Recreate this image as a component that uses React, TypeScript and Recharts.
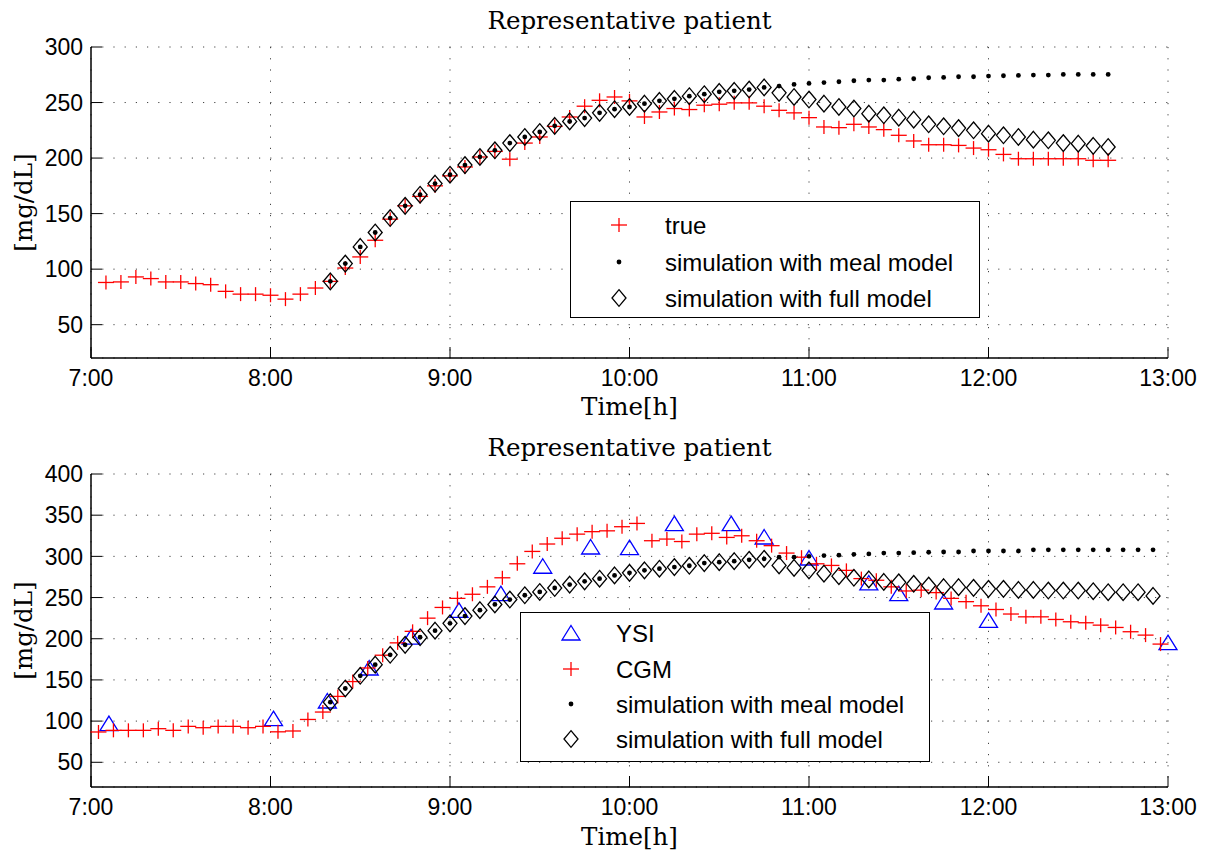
import React from 'react';
import { ScatterChart, Scatter, XAxis, YAxis, CartesianGrid, Legend } from 'recharts';

// x values are minutes after 7:00
const hourTicks = [0, 60, 120, 180, 240, 300, 360];
const topYTicks = [50, 100, 150, 200, 250, 300];
const bottomYTicks = [50, 100, 150, 200, 250, 300, 350, 400];

// ---- top panel ----
const trueMin = [
  5, 10, 15, 20, 25, 30, 35, 40, 45, 50, 55, 60, 65, 70, 75, 80, 85, 90, 95, 100,
  105, 110, 115, 120, 125, 130, 135, 140, 145, 150, 155, 160, 165, 170, 175, 180, 185, 190, 195, 200,
  205, 210, 215, 220, 225, 230, 235, 240, 245, 250, 255, 260, 265, 270, 275, 280, 285, 290, 295, 300,
  305, 310, 315, 320, 325, 330, 335, 340,
];
const trueVal = [
  88, 88.5, 93, 91.5, 88.5, 88.5, 87, 86, 80, 77.5, 77.5, 76.5, 73, 77.5, 83, 89, 101, 111, 126, 145,
  157, 165.5, 175, 184, 192, 201, 206, 199, 213.5, 219, 228.5, 237, 246.7, 252, 255, 251.5, 237, 241.5, 244.6, 243.7,
  247.6, 248.5, 249.7, 249.7, 246.7, 243, 240.7, 236.4, 228, 227.4, 230.4, 228, 225.6, 220.5, 215.4, 212, 212, 211.4, 209, 207.5,
  203.3, 199.4, 199.4, 199.4, 199.4, 199.4, 198, 198,
];
const simMinTop = [
  80, 85, 90, 95, 100, 105, 110, 115, 120, 125, 130, 135, 140, 145, 150, 155, 160, 165, 170, 175,
  180, 185, 190, 195, 200, 205, 210, 215, 220, 225, 230, 235, 240, 245, 250, 255, 260, 265, 270, 275,
  280, 285, 290, 295, 300, 305, 310, 315, 320, 325, 330, 335, 340,
];
const mealTop = [
  89, 105, 120, 133, 146, 157, 167, 177, 185, 193.7, 201, 207, 213.5, 219, 223.5, 229, 233, 236, 240.7, 244,
  246, 249, 251.5, 253.3, 255.7, 257.5, 259.6, 260.5, 261.7, 263.6, 264.8, 266.3, 267.2, 268, 268.7, 269.6, 270.2, 270.2, 271, 271.4,
  272.3, 272.6, 273.2, 273.2, 273.8, 274.1, 274.4, 274.7, 274.7, 275.3, 275.3, 275.3, 275.3,
];
const fullTop = [
  89, 105, 120, 133, 146, 157, 167, 177, 185, 193.7, 201, 207, 213.5, 219, 223.5, 229, 233, 236, 240.7, 244,
  246, 249, 251.5, 253.3, 255.7, 257.5, 259.6, 260.5, 261.7, 263.6, 258.7, 255, 252.7, 249, 246, 244.6, 240, 238.5, 236.4, 234.6,
  230.4, 228.6, 227, 225, 222, 220.5, 219, 216.6, 216, 213.5, 213, 211, 210,
];

// ---- bottom panel ----
const ysiMin = [6, 61, 79, 93, 107, 123, 137, 151, 167, 180, 195, 214, 225, 240, 260, 270, 285, 300, 360];
const ysiVal = [97, 103, 124.4, 164.5, 202, 234.5, 254.7, 288, 311.4, 310.6, 339.7, 339.7, 323.5, 298, 267.7, 254.7, 244.6, 222.3, 195.2];
const cgmMin = [
  2.5, 7.5, 12.5, 17.5, 22.5, 27.5, 32.5, 37.5, 42.5, 47.5, 52.5, 57.5, 62.5, 67.5, 72.5, 77.5, 82.5, 87.5, 92.5, 97.5,
  102.5, 107.5, 112.5, 117.5, 122.5, 127.5, 132.5, 137.5, 142.5, 147.5, 152.5, 157.5, 162.5, 167.5, 172.5, 177.5, 182.5, 187.5, 192.5, 197.5,
  202.5, 207.5, 212.5, 217.5, 222.5, 227.5, 232.5, 237.5, 242.5, 247.5, 252.5, 257.5, 262.5, 267.5, 272.5, 277.5, 282.5, 287.5, 292.5, 297.5,
  302.5, 307.5, 312.5, 317.5, 322.5, 327.5, 332.5, 337.5, 342.5, 347.5, 352.5, 357.5,
];
const cgmVal = [
  86.8, 88.8, 88.8, 88.8, 90.8, 88.8, 93.6, 92, 93.6, 93.6, 92, 93.6, 87, 88, 102, 111, 130, 148, 164.5, 180,
  195, 209, 225, 238, 249, 254, 263, 274, 291, 306, 315, 322, 327, 330, 331, 336, 340, 319, 321, 318,
  327, 328, 323, 325, 319, 313, 304, 299, 291, 289, 283, 273, 271, 263, 258, 259, 256, 249, 245, 240,
  235.5, 230, 226.6, 226.6, 223.4, 220.6, 219.4, 216.5, 213.7, 208.5, 204.4, 193.5,
];
const simMinBottom = [
  80, 85, 90, 95, 100, 105, 110, 115, 120, 125, 130, 135, 140, 145, 150, 155, 160, 165, 170, 175,
  180, 185, 190, 195, 200, 205, 210, 215, 220, 225, 230, 235, 240, 245, 250, 255, 260, 265, 270, 275,
  280, 285, 290, 295, 300, 305, 310, 315, 320, 325, 330, 335, 340, 345, 350, 355,
];
const mealBottom = [
  123, 139.6, 155, 168.5, 180.5, 192.6, 201.8, 209.8, 218.7, 227.5, 234.7, 241.6, 247.6, 252.8, 256.8, 261.6, 265.7, 269.7, 272.9, 276.9,
  280, 283, 285, 287, 288.6, 291.8, 293, 294.2, 295.8, 297, 299, 299, 300, 301, 301.5, 302.5, 303, 304, 304, 304.5,
  305, 305.3, 305.3, 306.5, 306.5, 306.5, 306.5, 308, 308, 308, 308, 308, 308, 308, 308, 308,
];
const fullBottom = [
  123, 139.6, 155, 168.5, 180.5, 192.6, 201.8, 209.8, 218.7, 227.5, 234.7, 241.6, 247.6, 252.8, 256.8, 261.6, 265.7, 269.7, 272.9, 276.9,
  280, 283, 285, 287, 288.6, 291.8, 293, 294.2, 295.8, 297, 289, 286, 283, 279, 276, 274, 272, 269, 268.5, 266.7,
  264.6, 262.6, 262.6, 261.8, 260.6, 260.6, 259.3, 259.3, 258.5, 258.5, 258.5, 257.7, 256.5, 256.5, 256.5, 252,
];

const pts = (xs: number[], ys: number[]) => xs.map((x, i) => ({ x, y: ys[i] }));

const W = 1206;
const PLOT_LEFT = 91;
const PLOT_RIGHT = 1168;
const YAXIS_W = 80;
const TICK = -11;
const SANS = '"Liberation Sans", Arial, sans-serif';
const SERIF = '"DejaVu Serif", serif';

function Plus({ cx, cy }: any) {
  return (
    <g stroke="#ff0000" strokeWidth={1.3}>
      <line x1={cx - 8} y1={cy} x2={cx + 8} y2={cy} />
      <line x1={cx} y1={cy - 7} x2={cx} y2={cy + 7} />
    </g>
  );
}
function Dot({ cx, cy }: any) {
  return <circle cx={cx} cy={cy} r={2.4} fill="#000" />;
}
function Diamond({ cx, cy }: any) {
  return <polygon points={`${cx},${cy - 8.3} ${cx + 7},${cy} ${cx},${cy + 8.3} ${cx - 7},${cy}`} fill="none" stroke="#000" strokeWidth={1.3} />;
}
function Triangle({ cx, cy }: any) {
  return <polygon points={`${cx},${cy - 7.5} ${cx + 9},${cy + 7} ${cx - 9},${cy + 7}`} fill="none" stroke="#0000ff" strokeWidth={1.3} />;
}

const fmtHour = (m: number) => `${7 + m / 60}:00`;

function XTitle({ viewBox, dy }: any) {
  const { x, y, width } = viewBox;
  return (
    <text x={x + width / 2} y={y + dy} textAnchor="middle" fontFamily={SERIF} fontSize={24.5} fill="#000">
      Time[h]
    </text>
  );
}
function YTitle({ viewBox }: any) {
  const { x, y, height } = viewBox;
  const cx = x + 12;
  const cy = y + height / 2;
  return (
    <text x={cx} y={cy} transform={`rotate(-90 ${cx} ${cy})`} textAnchor="middle" dominantBaseline="central" fontFamily={SERIF} fontSize={24.5} fill="#000">
      [mg/dL]
    </text>
  );
}

interface Series { name: string; data: { x: number; y: number }[]; Marker: any }
interface LegendCfg { left: number; top: number; width: number; height: number; rows: number[]; markerX: number; textX: number }

function LegendBox({ series, cfg }: { series: Series[]; cfg: LegendCfg }) {
  return (
    <div style={{ boxSizing: 'border-box', width: cfg.width, height: cfg.height, border: '1.5px solid #000', background: '#fff' }}>
      <svg width={cfg.width - 3} height={cfg.height - 3} style={{ display: 'block' }}>
        {series.map((s, i) => {
          const M = s.Marker;
          return (
            <g key={s.name}>
              <M cx={cfg.markerX} cy={cfg.rows[i]} />
              <text x={cfg.textX} y={cfg.rows[i]} dominantBaseline="central" fontFamily={SANS} fontSize={24} fill="#000">
                {s.name}
              </text>
            </g>
          );
        })}
      </svg>
    </div>
  );
}

function Panel({ top, height, plotHeight, yMax, yTicks, titleDy, series, legend }: {
  top: number; height: number; plotHeight: number; yMax: number; yTicks: number[]; titleDy: number; series: Series[]; legend: LegendCfg;
}) {
  const xAxisH = height - 47 - plotHeight;
  const axisLine = { stroke: '#000', strokeWidth: 1.5 };
  const tickLine = { stroke: '#000', strokeWidth: 1 };
  return (
    <div style={{ position: 'absolute', left: 0, top }}>
      <ScatterChart width={W} height={height} margin={{ top: 47, right: W - PLOT_RIGHT, bottom: 0, left: PLOT_LEFT - YAXIS_W }}>
        <CartesianGrid stroke="#444" strokeDasharray="1.2 10" />
        <XAxis
          dataKey="x" type="number" domain={[0, 360]} ticks={hourTicks}
          tickFormatter={fmtHour} height={xAxisH} tickSize={TICK} tickMargin={23}
          axisLine={axisLine} tickLine={tickLine}
          tick={{ fill: '#000', fontSize: 23, fontFamily: SANS }}
          label={<XTitle dy={titleDy} />}
        />
        <XAxis xAxisId="top" orientation="top" type="number" domain={[0, 360]} ticks={hourTicks} allowDataOverflow
          height={0} tickSize={TICK} tick={false} axisLine={axisLine} tickLine={tickLine} />
        <YAxis
          dataKey="y" type="number" domain={[20, yMax]} ticks={yTicks}
          width={YAXIS_W} tickSize={TICK} tickMargin={19}
          axisLine={axisLine} tickLine={tickLine}
          tick={{ fill: '#000', fontSize: 23, fontFamily: SANS }}
          label={<YTitle />}
        />
        <YAxis yAxisId="right" orientation="right" type="number" domain={[20, yMax]} ticks={yTicks} allowDataOverflow
          width={0} tickSize={TICK} tick={false} axisLine={axisLine} tickLine={tickLine} />
        {series.map((s) => (
          <Scatter
            key={s.name} name={s.name} data={s.data} isAnimationActive={false} legendType="none"
            shape={(p: any) => <s.Marker cx={p.cx} cy={p.cy} />}
          />
        ))}
        <Legend
          layout="horizontal" verticalAlign="middle" align="center"
          wrapperStyle={{ left: legend.left, top: legend.top, width: legend.width, height: legend.height }}
          content={() => <LegendBox series={series} cfg={legend} />}
        />
      </ScatterChart>
    </div>
  );
}

const topSeries: Series[] = [
  { name: 'true', data: pts(trueMin, trueVal), Marker: Plus },
  { name: 'simulation with meal model', data: pts(simMinTop, mealTop), Marker: Dot },
  { name: 'simulation with full model', data: pts(simMinTop, fullTop), Marker: Diamond },
];
const bottomSeries: Series[] = [
  { name: 'YSI', data: pts(ysiMin, ysiVal), Marker: Triangle },
  { name: 'CGM', data: pts(cgmMin, cgmVal), Marker: Plus },
  { name: 'simulation with meal model', data: pts(simMinBottom, mealBottom), Marker: Dot },
  { name: 'simulation with full model', data: pts(simMinBottom, fullBottom), Marker: Diamond },
];

export default function App() {
  const mid = (PLOT_LEFT + PLOT_RIGHT) / 2;
  return (
    <div style={{ position: 'absolute', left: 0, top: 0, width: W, height: 855, background: '#fff' }}>
      <svg width={W} height={855} style={{ position: 'absolute', left: 0, top: 0 }}>
        <text x={mid} y={29} textAnchor="middle" fontFamily={SERIF} fontSize={24.5} fill="#000">Representative patient</text>
        <text x={mid} y={456} textAnchor="middle" fontFamily={SERIF} fontSize={24.5} fill="#000">Representative patient</text>
      </svg>
      <Panel
        top={0} height={425} plotHeight={311} yMax={300} yTicks={topYTicks} titleDy={57} series={topSeries}
        legend={{ left: 570, top: 201, width: 410, height: 117, rows: [23, 60, 96], markerX: 48, textX: 94 }}
      />
      <Panel
        top={427} height={428} plotHeight={313} yMax={400} yTicks={bottomYTicks} titleDy={58} series={bottomSeries}
        legend={{ left: 520, top: 185, width: 410, height: 150, rows: [20, 56, 91, 126], markerX: 50, textX: 95 }}
      />
    </div>
  );
}
